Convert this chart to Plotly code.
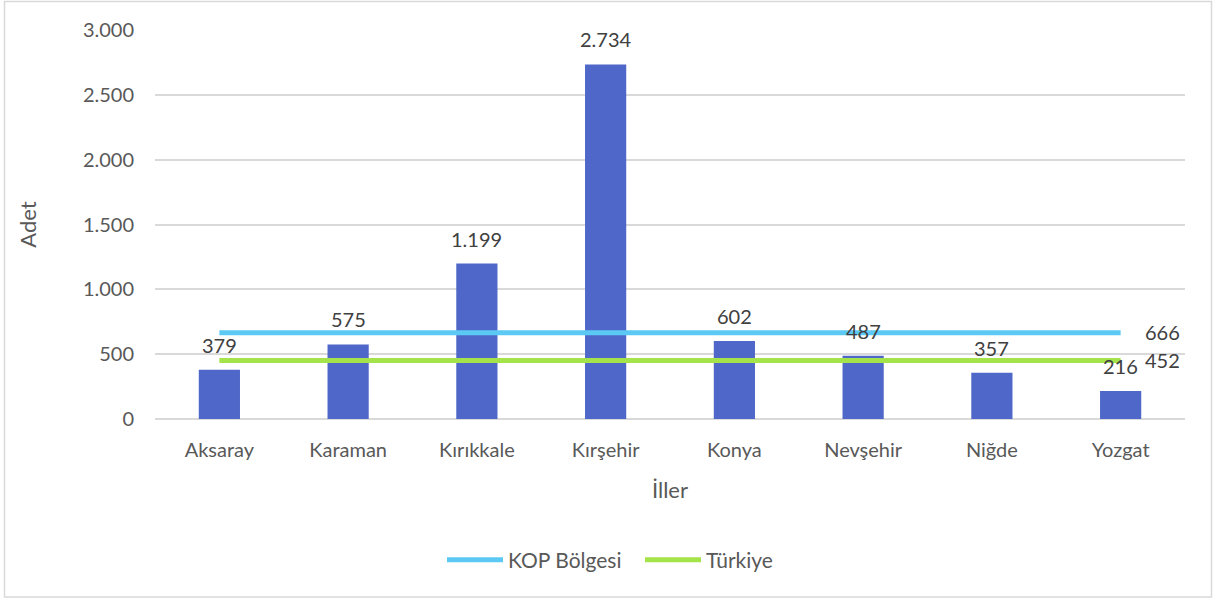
import plotly.graph_objects as go

iller = ["Aksaray", "Karaman", "Kırıkkale", "Kırşehir", "Konya", "Nevşehir", "Niğde", "Yozgat"]
adet = [379, 575, 1199, 2734, 602, 487, 357, 216]
kop_bolgesi = 666
turkiye = 452

L, R, T, B = 155, 30, 30, 182
W, H = 1215, 601
pw = W - L - R
ph = H - T - B

def px_x(p):
    return (p - L) / pw

def px_y(p):
    return (H - B - p) / ph

font_fam = "Lato, 'Open Sans', sans-serif"
txt_col = "#595959"
lbl_col = "#404040"

def fmt(v):
    return f"{v:,}".replace(",", ".")

fig = go.Figure()
fig.add_trace(go.Bar(
    x=iller, y=adet, width=0.32, marker=dict(color="#4F67C8", line=dict(width=0)),
    showlegend=False, hoverinfo="x+y",
))
for xi, v in zip(iller, adet):
    fig.add_annotation(x=xi, y=v, text=fmt(v), showarrow=False, yshift=25,
                       font=dict(size=20, color=lbl_col, family=font_fam))

for name, val, col in [("KOP Bölgesi", kop_bolgesi, "#5BC9F4"), ("Türkiye", turkiye, "#A4E34A")]:
    ys = [val] * len(iller)
    fig.add_trace(go.Scatter(
        x=iller, y=ys, mode="lines", name=name,
        line=dict(color=col, width=5),
    ))
    fig.add_annotation(x=iller[-1], y=val, text=str(val), showarrow=False,
                       xanchor="left", xshift=22, yshift=1 if val > 500 else 0,
                       font=dict(size=20, color=lbl_col, family=font_fam))

fig.add_shape(type="rect", xref="paper", yref="paper",
              x0=px_x(4.5), x1=px_x(1211.5), y0=px_y(597), y1=px_y(1.5),
              line=dict(color="#D9D9D9", width=1.5), layer="below")

fig.update_layout(
    width=W, height=H,
    margin=dict(l=L, r=R, t=T, b=B),
    paper_bgcolor="white", plot_bgcolor="white",
    separators=",.",
    font=dict(family=font_fam, size=20, color=txt_col),
    legend=dict(orientation="h", x=px_x(442), xanchor="left", y=px_y(560), yanchor="middle",
                font=dict(size=21, color=txt_col), itemwidth=56,
                entrywidth=127, entrywidthmode="pixels", traceorder="normal"),
    xaxis=dict(
        title=dict(text="İller", font=dict(size=22, color=txt_col), standoff=22),
        showgrid=False, showline=False, ticks="", tickfont=dict(size=20, color=txt_col),
        ticklabelstandoff=17,
    ),
    yaxis=dict(
        title=dict(text="Adet", font=dict(size=22, color=txt_col), standoff=40),
        range=[0, 3000], dtick=500, tickformat=",d",
        showgrid=True, gridcolor="#D9D9D9", gridwidth=1.5,
        zeroline=True, zerolinecolor="#D9D9D9", zerolinewidth=1.5,
        showline=False, ticks="", ticklen=0, tickfont=dict(size=20, color=txt_col),
        ticklabelstandoff=20,
    ),
)

fig.write_html("out.html", config={"displayModeBar": False},
               post_script="document.body.style.margin='0';document.body.style.padding='0';")
